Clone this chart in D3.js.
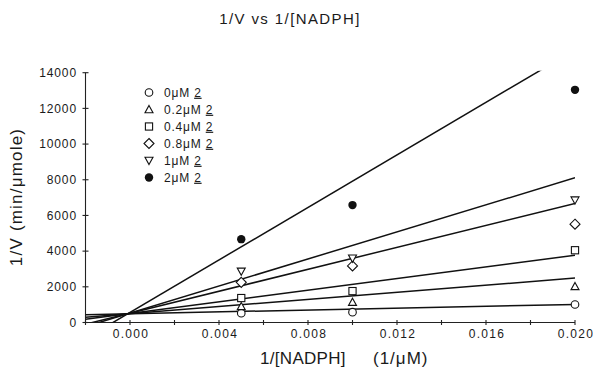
<!DOCTYPE html>
<html>
<head>
<meta charset="utf-8">
<script src="https://cdn.jsdelivr.net/npm/d3@7"></script>
<style>
  html, body { margin: 0; padding: 0; background: #fff; }
  svg { display: block; }
  text { font-family: "Liberation Sans", Arial, Helvetica, sans-serif; fill: #1a1a1a; }
</style>
</head>
<body>
<svg id="chart" width="593" height="370"></svg>
<script>
// ---- data ----
const seriesNames = ["0\u03BCM", "0.2\u03BCM", "0.4\u03BCM", "0.8\u03BCM", "1\u03BCM", "2\u03BCM"];
const seriesSymbols = ["circle", "triangle", "square", "diamond", "triangleDown", "filledCircle"];
const xValues = [0.005, 0.010, 0.020];
const y0uM   = [523, 580, 1010];
const y02uM  = [900, 1140, 2020];
const y04uM  = [1370, 1760, 4050];
const y08uM  = [2250, 3170, 5510];
const y1uM   = [2870, 3600, 6860];
const y2uM   = [4670, 6580, 13040];
// fitted line parameters (1/V = slope * x + intercept)
const fitSlopes     = [25900, 99500, 163200, 307500, 379100, 735700];
const fitIntercepts = [493, 500, 506, 521, 528, 564];
const xTicks = [-0.002, 0, 0.002, 0.004, 0.006, 0.008, 0.010, 0.012, 0.014, 0.016, 0.018, 0.020];
const xTickLabels = [0.000, 0.004, 0.008, 0.012, 0.016, 0.020];
const yTicks = [0, 2000, 4000, 6000, 8000, 10000, 12000, 14000];

const seriesY = [y0uM, y02uM, y04uM, y08uM, y1uM, y2uM];

// ---- layout ----
const svg = d3.select("#chart");
const x = d3.scaleLinear().domain([-0.002, 0.020]).range([85.5, 575]);
const y = d3.scaleLinear().domain([0, 14000]).range([322.5, 72.7]);

// clip for fitted lines
svg.append("defs").append("clipPath").attr("id", "plotclip")
  .append("rect")
  .attr("x", x(-0.002)).attr("y", y(14000) - 2)
  .attr("width", x(0.020) - x(-0.002)).attr("height", y(0) - y(14000) + 2);

// title
svg.append("text")
  .attr("x", 290).attr("y", 24)
  .attr("text-anchor", "middle")
  .style("font-size", "15px").style("letter-spacing", "1.4px")
  .text("1/V  vs  1/[NADPH]");

// y axis
const yAxis = svg.append("g");
yAxis.append("line")
  .attr("x1", x(-0.002)).attr("x2", x(-0.002))
  .attr("y1", y(0)).attr("y2", y(14000))
  .attr("stroke", "#222").attr("stroke-width", 1.1);
yAxis.selectAll("line.tick").data(yTicks).enter().append("line")
  .attr("class", "tick")
  .attr("x1", x(-0.002) - 3).attr("x2", x(-0.002) + 3)
  .attr("y1", d => y(d)).attr("y2", d => y(d))
  .attr("stroke", "#222").attr("stroke-width", 1.1);
yAxis.selectAll("text").data(yTicks).enter().append("text")
  .attr("x", 77).attr("y", d => y(d) + 4.3)
  .attr("text-anchor", "end")
  .style("font-size", "12px").style("letter-spacing", "0.9px")
  .text(d => d3.format("d")(d));

// x axis
const xAxis = svg.append("g");
xAxis.append("line")
  .attr("x1", x(-0.002)).attr("x2", x(0.020))
  .attr("y1", y(0)).attr("y2", y(0))
  .attr("stroke", "#222").attr("stroke-width", 1.1);
xAxis.selectAll("line.tick").data(xTicks).enter().append("line")
  .attr("class", "tick")
  .attr("x1", d => x(d)).attr("x2", d => x(d))
  .attr("y1", y(0) - 2.5).attr("y2", y(0) + 2.5)
  .attr("stroke", "#222").attr("stroke-width", 1.1);
xAxis.selectAll("text").data(xTickLabels).enter().append("text")
  .attr("x", d => x(d) + 1).attr("y", 337.5)
  .attr("text-anchor", "middle")
  .style("font-size", "12px").style("letter-spacing", "1.3px")
  .text(d => d3.format(".3f")(d));

// axis titles
svg.append("text")
  .attr("x", 260).attr("y", 364)
  .style("font-size", "17px").style("letter-spacing", "0.3px")
  .text("1/[NADPH]");
svg.append("text")
  .attr("x", 373).attr("y", 364)
  .style("font-size", "17px").style("letter-spacing", "1px")
  .text("(1/\u03BCM)");
svg.append("text")
  .attr("transform", "translate(22,197) rotate(-90)")
  .attr("text-anchor", "middle")
  .style("font-size", "17px").style("letter-spacing", "1.2px")
  .text("1/V (min/\u03BCmole)");

// fitted lines
const lineG = svg.append("g").attr("clip-path", "url(#plotclip)");
fitSlopes.forEach((m, i) => {
  const b = fitIntercepts[i];
  lineG.append("line")
    .attr("x1", x(-0.002)).attr("y1", y(m * -0.002 + b))
    .attr("x2", x(0.020)).attr("y2", y(m * 0.020 + b))
    .attr("stroke", "#111").attr("stroke-width", 1.5);
});

// symbols
function drawSymbol(g, type, cx, cy) {
  const s = 4;
  if (type === "circle") {
    g.append("circle").attr("cx", cx).attr("cy", cy).attr("r", 3.8)
      .attr("fill", "#fff").attr("stroke", "#111").attr("stroke-width", 1.1);
  } else if (type === "filledCircle") {
    g.append("circle").attr("cx", cx).attr("cy", cy).attr("r", 4.2)
      .attr("fill", "#111");
  } else if (type === "square") {
    g.append("rect").attr("x", cx - 3.6).attr("y", cy - 3.6).attr("width", 7.2).attr("height", 7.2)
      .attr("fill", "#fff").attr("stroke", "#111").attr("stroke-width", 1.1);
  } else if (type === "diamond") {
    g.append("path").attr("d", `M${cx},${cy-5}L${cx+5},${cy}L${cx},${cy+5}L${cx-5},${cy}Z`)
      .attr("fill", "#fff").attr("stroke", "#111").attr("stroke-width", 1.1);
  } else if (type === "triangle") {
    g.append("path").attr("d", `M${cx},${cy-s}L${cx+s},${cy+s*0.8}L${cx-s},${cy+s*0.8}Z`)
      .attr("fill", "#fff").attr("stroke", "#111").attr("stroke-width", 1.1);
  } else if (type === "triangleDown") {
    g.append("path").attr("d", `M${cx},${cy+s}L${cx+s},${cy-s*0.8}L${cx-s},${cy-s*0.8}Z`)
      .attr("fill", "#fff").attr("stroke", "#111").attr("stroke-width", 1.1);
  }
}

const pts = svg.append("g");
seriesY.forEach((vals, i) => {
  vals.forEach((v, j) => drawSymbol(pts, seriesSymbols[i], x(xValues[j]), y(v)));
});

// legend
const leg = svg.append("g");
seriesNames.forEach((name, i) => {
  const ly = 92.5 + i * 17;
  drawSymbol(leg, seriesSymbols[i], 149, ly);
  const t = leg.append("text").attr("x", 164).attr("y", ly + 4.2)
    .style("font-size", "12px").style("letter-spacing", "0.8px");
  t.append("tspan").text(name + " ");
  t.append("tspan").attr("text-decoration", "underline").style("text-decoration", "underline").text("2");
});
</script>
</body>
</html>
